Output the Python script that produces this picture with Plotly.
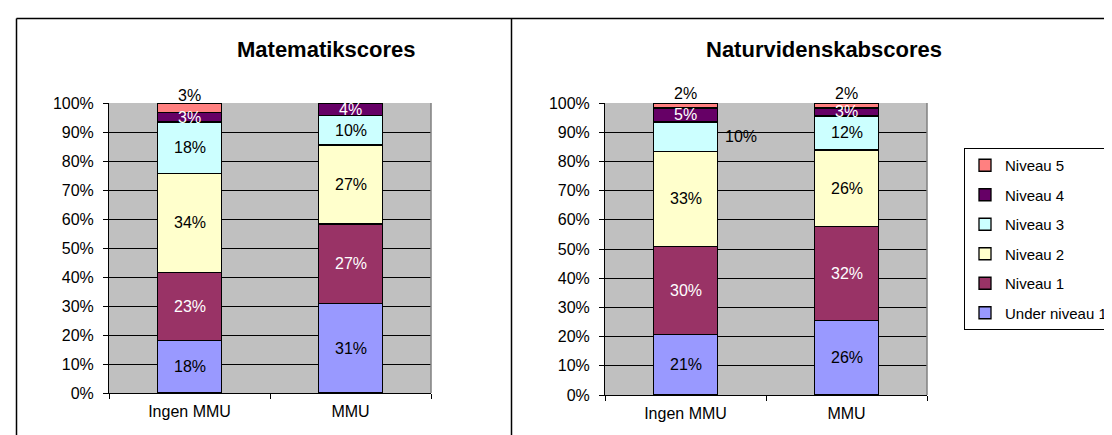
import plotly.graph_objects as go

categories = ['Ingen MMU', 'MMU']
levels = ['Under niveau 1', 'Niveau 1', 'Niveau 2', 'Niveau 3', 'Niveau 4', 'Niveau 5']

# percent of pupils per level, [Ingen MMU, MMU]
math_under = [18.2, 30.9]
math_n1 = [23.4, 27.4]
math_n2 = [34.2, 27.2]
math_n3 = [17.6, 10.1]
math_n4 = [3.3, 4.4]
math_n5 = [3.3, 0.0]

sci_under = [20.8, 25.6]
sci_n1 = [30.1, 32.0]
sci_n2 = [32.6, 26.3]
sci_n3 = [10.0, 11.7]
sci_n4 = [4.8, 2.7]
sci_n5 = [1.7, 1.7]

colors = ['#9999FF', '#993366', '#FFFFCC', '#CCFFFF', '#660066', '#FF8080']
label_colors = ['black', 'white', 'black', 'black', 'white', 'black']
FONT = 'Liberation Sans, Arial, sans-serif'

charts = [
    ('Matematikscores', [math_under, math_n1, math_n2, math_n3, math_n4, math_n5], 'x', 'y'),
    ('Naturvidenskabscores', [sci_under, sci_n1, sci_n2, sci_n3, sci_n4, sci_n5], 'x2', 'y2'),
]

# manual label nudges (Excel moved some labels)
nudges = {(1, 3, 0): (55, 0)}

fig = go.Figure()
annotations = []
for ci, (title, series, xa, ya) in enumerate(charts):
    for li, (name, vals) in enumerate(zip(levels, series)):
        fig.add_trace(go.Bar(
            x=categories, y=vals, name=name, xaxis=xa, yaxis=ya,
            marker=dict(color=colors[li], line=dict(color='black', width=1.3)),
            legendgroup=name, legendrank=100 - li, showlegend=(ci == 0),
            hoverinfo='skip',
        ))
    # data labels in the middle of each segment
    for k, cat in enumerate(categories):
        base = 0
        for li, vals in enumerate(series):
            v = vals[k]
            if v > 0:
                dx, dy = nudges.get((ci, li, k), (0, 0))
                if li == 5:
                    dy = 12
                annotations.append(dict(
                    x=cat, y=base + v / 2, xref=xa, yref=ya, text=f'{round(v)}%',
                    showarrow=False, xshift=dx, yshift=dy,
                    font=dict(family=FONT, size=16, color=label_colors[li]),
                ))
            base += v

# chart titles
for title, xc in [('Matematikscores', 318), ('Naturvidenskabscores', 816)]:
    annotations.append(dict(x=xc / 1112, y=1 - 42 / 435, xref='paper', yref='paper',
                            xanchor='center', yanchor='middle',
                            text=f'<b>{title}</b>', showarrow=False,
                            font=dict(family=FONT, size=22, color='black')))

xcommon = dict(showline=True, linecolor='black', linewidth=1, ticks='outside',
               tickson='boundaries', ticklen=5, tickcolor='black', showgrid=False,
               tickfont=dict(family=FONT, size=16, color='black'), ticklabelstandoff=4)
ycommon = dict(range=[0, 100], dtick=10, ticksuffix='%', showline=True, linecolor='black',
               linewidth=1, ticks='outside', ticklen=5, tickcolor='black',
               gridcolor='black', gridwidth=1, zeroline=False, ticklabelstandoff=6,
               tickfont=dict(family=FONT, size=16, color='black'))

shapes = []
# outer chart frames
for x0, y0, x1, y1 in [(8.5, 10.5, 1112, 10.5), (8.5, 10.5, 8.5, 435), (503.5, 10.5, 503.5, 435)]:
    shapes.append(dict(type='line', xref='paper', yref='paper',
                       x0=x0 / 1112, x1=x1 / 1112, y0=1 - y0 / 435, y1=1 - y1 / 435,
                       line=dict(color='black', width=1.5)))
# grey right edge of the plot areas
for xa, ya in [('x', 'y'), ('x2', 'y2')]:
    shapes.append(dict(type='line', xref=f'{xa} domain', yref=f'{ya} domain',
                       x0=1, x1=1, y0=0, y1=1, line=dict(color='#808080', width=1.5)))

fig.update_layout(
    width=1112, height=435,
    margin=dict(l=0, r=0, t=0, b=0, autoexpand=False),
    barmode='stack', bargap=0.6,
    plot_bgcolor='#C0C0C0', paper_bgcolor='white',
    font=dict(family=FONT, size=16, color='black'),
    xaxis=dict(domain=[101 / 1112, 423 / 1112], anchor='y', **xcommon),
    yaxis=dict(domain=[50 / 435, 340 / 435], anchor='x', **ycommon),
    xaxis2=dict(domain=[597 / 1112, 919 / 1112], anchor='y2', **xcommon),
    yaxis2=dict(domain=[48 / 435, 340 / 435], anchor='x2', **ycommon),
    legend=dict(x=956 / 1112, y=1 - 140 / 435, xanchor='left', yanchor='top',
                traceorder='grouped', tracegroupgap=7,
                bordercolor='black', borderwidth=1, bgcolor='white',
                font=dict(family=FONT, size=15, color='black')),
    annotations=annotations, shapes=shapes,
)

fig.write_html('out.html')
